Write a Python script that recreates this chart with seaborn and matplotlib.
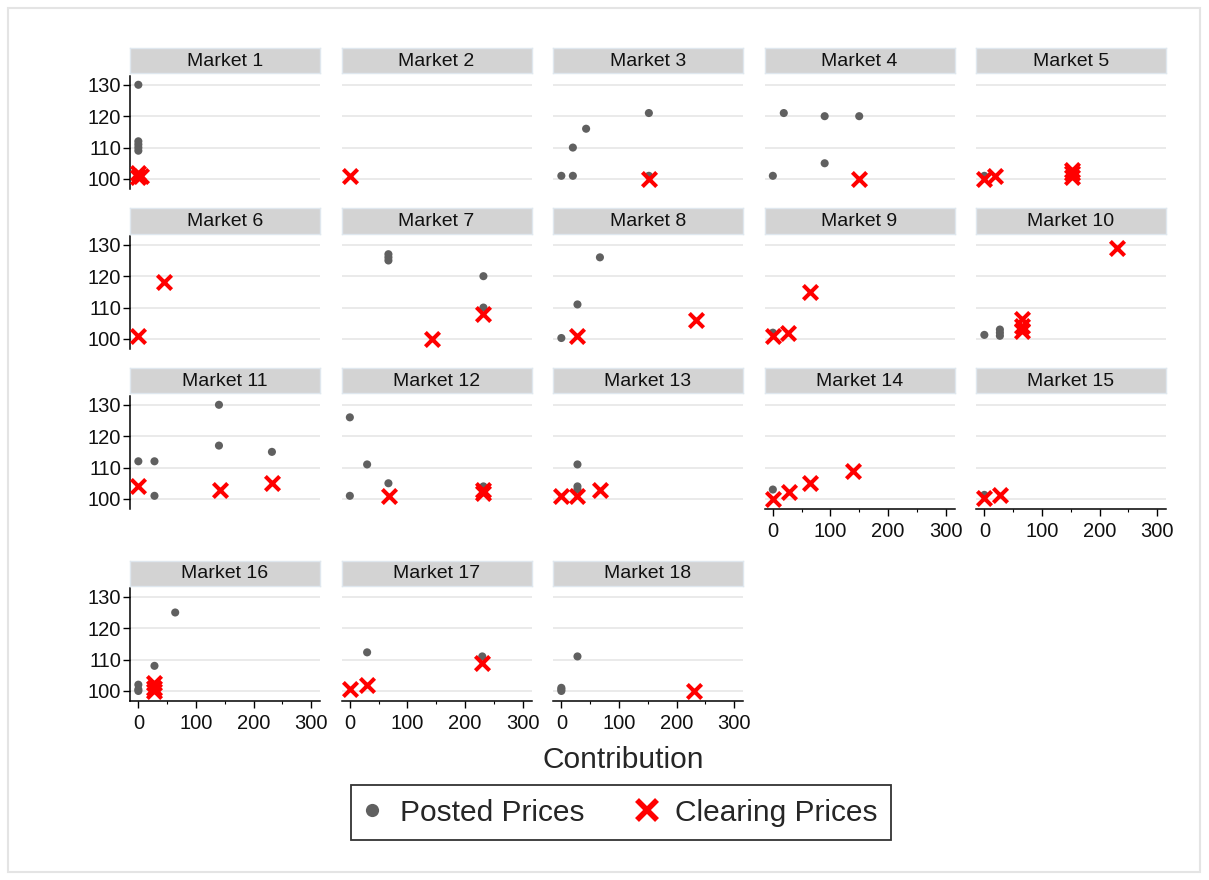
import pandas as pd
import numpy as np
import seaborn as sns
import matplotlib.pyplot as plt
from matplotlib.lines import Line2D
from matplotlib.patches import Rectangle
from matplotlib.ticker import MultipleLocator

sns.set_theme(style="white")
plt.rcParams['font.family'] = ['Liberation Sans', 'DejaVu Sans']

# posted prices (market, contribution, price)
posted_market = [1, 1, 1, 1, 1,
                 3, 3, 3, 3, 3, 3,
                 4, 4, 4, 4, 4,
                 5,
                 7, 7, 7, 7, 7,
                 8, 8, 8,
                 9,
                 10, 10, 10, 10,
                 11, 11, 11, 11, 11, 11,
                 12, 12, 12, 12, 12,
                 13, 13, 13,
                 14,
                 15,
                 16, 16, 16, 16, 16,
                 17, 17,
                 18, 18, 18, 18]
posted_contrib = [0, 0, 0, 0, 0,
                  0, 20, 20, 43, 152, 152,
                  0, 19, 90, 90, 150,
                  0,
                  67, 67, 67, 232, 232,
                  0, 28, 67,
                  0,
                  0, 27, 27, 27,
                  0, 28, 28, 140, 140, 232,
                  0, 0, 30, 67, 232,
                  28, 28, 28,
                  0,
                  0,
                  0, 0, 0, 28, 64,
                  30, 230,
                  0, 0, 0, 28]
posted_price = [130, 112, 111, 110, 109,
                101, 101, 110, 116, 121, 101,
                101, 121, 120, 105, 120,
                101,
                127, 126, 125, 120, 110,
                100.3, 111, 126,
                102,
                101.3, 103, 102, 101,
                112, 112, 101, 130, 117, 115,
                126, 101, 111, 105, 104,
                111, 104, 103,
                103,
                101.3,
                102, 100.5, 100, 108, 125,
                112.3, 111,
                101, 100.5, 100, 111]

# clearing prices (market, contribution, price)
clear_market = [1, 1, 1,
                2,
                3,
                4,
                5, 5, 5, 5, 5,
                6, 6,
                7, 7,
                8, 8,
                9, 9, 9,
                10, 10, 10, 10,
                11, 11, 11,
                12, 12, 12,
                13, 13, 13,
                14, 14, 14, 14,
                15, 15,
                16, 16, 16,
                17, 17, 17,
                18]
clear_contrib = [0, 4, 0,
                 0,
                 152,
                 150,
                 0, 19, 152, 152, 152,
                 0, 44,
                 142, 232,
                 28, 233,
                 0, 27, 65,
                 66, 66, 66, 231,
                 0, 141, 232,
                 68, 232, 232,
                 0, 28, 67,
                 0, 28, 65, 140,
                 0, 28,
                 28, 28, 28,
                 0, 30, 230,
                 230]
clear_price = [102, 101, 100.5,
               101,
               100,
               100,
               100, 101, 103, 102, 100.5,
               101, 118,
               100, 108,
               101, 106,
               101, 102, 115,
               106.5, 104, 102.5, 129,
               104, 103, 105,
               101, 103, 102,
               101, 101, 103,
               100, 102.3, 105, 109,
               100.2, 101.3,
               102.5, 101, 100,
               100.7, 102, 109,
               100]

posted = pd.DataFrame({"market": posted_market, "contribution": posted_contrib, "price": posted_price})
clearing = pd.DataFrame({"market": clear_market, "contribution": clear_contrib, "price": clear_price})

W, H = 1209, 880
fig = plt.figure(figsize=(W / 100, H / 100), dpi=100)

# light outer frame
fig.patches.append(Rectangle((8 / W, 8 / H), (1200 - 8) / W, (872 - 8) / H,
                             transform=fig.transFigure, fill=False,
                             edgecolor="#e4e4e4", linewidth=1.5))

col_left = [130, 341.5, 553, 764.5, 976]
row_top = [76, 236, 396, 588]
pw, ph = 190, 113
grey = "#606060"
red = "#ff0000"
bottom_panels = [14, 15, 16, 17, 18]

for m in range(1, 19):
    r, c = (m - 1) // 5, (m - 1) % 5
    x0, y0 = col_left[c], row_top[r]
    ax = fig.add_axes([x0 / W, 1 - (y0 + ph) / H, pw / W, ph / H])

    sns.scatterplot(data=posted[posted.market == m], x="contribution", y="price",
                    color=grey, s=34, marker="o", edgecolor="none", ax=ax, zorder=3)
    sns.scatterplot(data=clearing[clearing.market == m], x="contribution", y="price",
                    color=red, s=105, marker="x", linewidth=2.9, ax=ax, zorder=4)

    ax.set_xlim(-14.5, 315.5)
    ax.set_ylim(96.8, 132.8)
    ax.set_yticks([100, 110, 120, 130])
    ax.set_xticks([0, 100, 200, 300])
    ax.xaxis.set_minor_locator(MultipleLocator(50))
    ax.yaxis.grid(True, color="#e8e8e8", linewidth=1.3)
    ax.set_axisbelow(True)
    ax.set_xlabel("")
    ax.set_ylabel("")
    for s in ax.spines.values():
        s.set_visible(False)

    if c == 0:
        ax.spines["left"].set_visible(True)
        ax.spines["left"].set_color("black")
        ax.spines["left"].set_linewidth(1.1)
        ax.tick_params(axis="y", left=True, labelleft=True, length=4.8, width=1.0,
                       color="black", pad=1.5, labelsize=14.5, labelcolor="#111111")
    else:
        ax.tick_params(axis="y", left=False, labelleft=False)

    if m in bottom_panels:
        ax.spines["bottom"].set_visible(True)
        ax.spines["bottom"].set_color("black")
        ax.spines["bottom"].set_linewidth(1.1)
        ax.tick_params(axis="x", which="major", bottom=True, labelbottom=True, length=4.8,
                       width=1.0, color="black", pad=4.5, labelsize=14.5, labelcolor="#111111")
        ax.tick_params(axis="x", which="minor", bottom=True, length=2.5, width=0.8, color="black")
    else:
        ax.tick_params(axis="x", which="both", bottom=False, labelbottom=False)

    # strip header
    sax = fig.add_axes([x0 / W, 1 - (y0 - 2.5) / H, pw / W, 25 / H])
    sax.set_facecolor("#d3d3d3")
    sax.set_xticks([])
    sax.set_yticks([])
    for s in sax.spines.values():
        s.set_color("#dfe7ee")
        s.set_linewidth(1.0)
    sax.text(0.5, 0.5, f"Market {m}", ha="center", va="center", fontsize=14,
             color="#111111", transform=sax.transAxes)

fig.text(623 / W, 1 - 760 / H, "Contribution", ha="center", va="center", fontsize=21.5)

handles = [Line2D([], [], marker="o", linestyle="none", color=grey, markersize=9.5, markeredgewidth=0),
           Line2D([], [], marker="x", linestyle="none", color=red, markersize=15, markeredgewidth=4)]
leg = fig.legend(handles, ["Posted Prices", "Clearing Prices"], loc="center",
                 bbox_to_anchor=(621 / W, 1 - 812.5 / H), ncol=2, fontsize=21.5,
                 frameon=True, fancybox=False, edgecolor="black", handletextpad=0.68,
                 columnspacing=1.85, handlelength=0.5, borderpad=0.45, borderaxespad=0)
leg.get_frame().set_linewidth(1.3)

fig.savefig("out.png", dpi=100, facecolor="white")
